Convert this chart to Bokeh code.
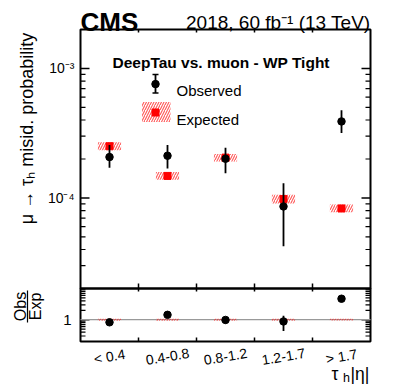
import math
from bokeh.plotting import figure
from bokeh.models import ColumnDataSource, Range1d, LogScale, Label
from bokeh.embed import file_html
from bokeh.resources import INLINE

# ---------------- data ----------------
categories = ["< 0.4", "0.4-0.8", "0.8-1.2", "1.2-1.7", "> 1.7"]
obs = [2.07e-4, 2.12e-4, 2.01e-4, 0.86e-4, 3.90e-4]
obs_up = [2.56e-4, 2.56e-4, 2.44e-4, 1.30e-4, 4.75e-4]
obs_dn = [1.71e-4, 1.69e-4, 1.55e-4, 0.424e-4, 3.18e-4]
exp = [2.51e-4, 1.48e-4, 2.05e-4, 0.98e-4, 0.83e-4]
exp_up = [2.69e-4, 1.59e-4, 2.19e-4, 1.06e-4, 0.89e-4]
exp_dn = [2.34e-4, 1.38e-4, 1.91e-4, 0.905e-4, 0.775e-4]
y_tick_labels = {1e-4: "10\u207b\u2074", 1e-3: "10\u207b\u00b3"}
ratio_tick_labels = {1: "1"}

FONT = "Liberation Sans"

# ---------------- layout (page pixels; the figure starts at page 0,0) ----------------
FW, FH = 399, 385
FL, FR = 80, 370          # panel left/right
T1, B1 = 29, 288          # main panel top/bottom
T2, B2 = 288, 341         # ratio panel top/bottom
Y1MIN, Y1MAX = 2e-5, 2e-3
Y2MIN, Y2MAX = 0.2, 10.0
XMIN, XMAX = 0, len(categories)
HW = 0.2


def sx(px):
    return XMIN + (px - FL) / (FR - FL) * (XMAX - XMIN)


def dxp(px):
    return px / (FR - FL) * (XMAX - XMIN)


def sy1(py):
    l0, l1 = math.log10(Y1MIN), math.log10(Y1MAX)
    return 10 ** (l0 + (B1 - py) / (B1 - T1) * (l1 - l0))


def sy2(py):
    l0, l1 = math.log10(Y2MIN), math.log10(Y2MAX)
    return 10 ** (l0 + (B2 - py) / (B2 - T2) * (l1 - l0))


def f1(px):
    return 10 ** (px / (B1 - T1) * math.log10(Y1MAX / Y1MIN))


def f2(px):
    return 10 ** (px / (B2 - T2) * math.log10(Y2MAX / Y2MIN))


xc = [i + 0.5 for i in range(len(categories))]
edges = list(range(XMIN, XMAX + 1))
src = ColumnDataSource(dict(
    x=xc, obs=obs, obs_up=obs_up, obs_dn=obs_dn, exp=exp,
    exp_up=exp_up, exp_dn=exp_dn,
    left=[v - HW for v in xc], right=[v + HW for v in xc],
    ratio=[o / e for o, e in zip(obs, exp)],
    r_up=[o / e for o, e in zip(obs_up, exp)],
    r_dn=[o / e for o, e in zip(obs_dn, exp)],
    re_up=[u / e for u, e in zip(exp_up, exp)],
    re_dn=[d / e for d, e in zip(exp_dn, exp)],
))

HATCH = dict(fill_color=None, line_color=None, hatch_pattern="/",
             hatch_color="#ff2020", hatch_alpha=0.75, hatch_scale=5,
             hatch_weight=1.1)

p = figure(width=FW, height=FH, x_range=Range1d(sx(0), sx(FW)),
           y_range=Range1d(sy1(FH), sy1(0)), y_axis_type="log",
           x_axis_location=None, y_axis_location=None,
           toolbar_location=None, output_backend="svg", min_border=0)
p.outline_line_color = None
p.background_fill_color = "white"
p.border_fill_color = "white"
for g in p.grid:
    g.visible = False
p.extra_y_ranges = {"r": Range1d(sy2(FH), sy2(0))}
p.extra_y_scales = {"r": LogScale()}

# ---------------- panel frames and ticks (drawn through the scales) ----------------
p.quad(left=[XMIN], right=[XMAX], bottom=[Y1MIN], top=[Y1MAX],
       fill_color=None, line_color="black", line_width=2)
p.quad(left=[XMIN], right=[XMAX], bottom=[Y2MIN], top=[Y2MAX],
       fill_color=None, line_color="black", line_width=2, y_range_name="r")

minor1 = [m * 10 ** e for e in (-5, -4, -3) for m in range(2, 10)
          if Y1MIN <= m * 10 ** e <= Y1MAX]
minor2 = [m * 10 ** e for e in (-1, 0) for m in range(2, 10)
          if Y2MIN <= m * 10 ** e <= Y2MAX and m * 10 ** e != 1]


def yticks(values, length, rname="default", width=1.5):
    kw = {} if rname == "default" else {"y_range_name": rname}
    p.segment(x0=[XMIN] * len(values), x1=[XMIN + dxp(length)] * len(values),
              y0=values, y1=values, line_color="black", line_width=width, **kw)
    p.segment(x0=[XMAX] * len(values), x1=[XMAX - dxp(length)] * len(values),
              y0=values, y1=values, line_color="black", line_width=width, **kw)


yticks(list(y_tick_labels), 9)
yticks(minor1, 5, width=1.2)
yticks(list(ratio_tick_labels), 9, "r")
yticks(minor2, 5, "r", width=1.2)

inner = edges[1:-1]
n = len(inner)
p.segment(x0=inner, x1=inner, y0=[Y1MAX] * n, y1=[Y1MAX / f1(3)] * n, line_color="black", line_width=1.5)
p.segment(x0=inner, x1=inner, y0=[Y1MIN] * n, y1=[Y1MIN * f1(5)] * n, line_color="black", line_width=1.5)
p.segment(x0=inner, x1=inner, y0=[Y2MAX] * n, y1=[Y2MAX / f2(3)] * n, line_color="black",
          line_width=1.5, y_range_name="r")
p.segment(x0=inner, x1=inner, y0=[Y2MIN] * n, y1=[Y2MIN * f2(4)] * n, line_color="black",
          line_width=1.5, y_range_name="r")


def lab(x, y, text, size, bold=False, align="left", baseline="alphabetic",
        angle=0.0, x_units="canvas", y_units="canvas", rname="default"):
    p.add_layout(Label(x=x, y=y, x_units=x_units, y_units=y_units, text=text,
                       text_font=FONT, text_font_size=size,
                       text_font_style="bold" if bold else "normal",
                       text_align=align, text_baseline=baseline, angle=angle,
                       text_color="black", y_range_name=rname))


for v, t in y_tick_labels.items():
    lab(XMIN - dxp(6), v, t, "14px", align="right", baseline="middle",
        x_units="data", y_units="data")
for v, t in ratio_tick_labels.items():
    lab(XMIN - dxp(9), v, t, "15px", align="right", baseline="middle",
        x_units="data", y_units="data", rname="r")

# ---------------- main panel content ----------------
p.quad(left="left", right="right", bottom="exp_dn", top="exp_up", source=src, **HATCH)
p.scatter(x="x", y="exp", source=src, marker="square", size=7, color="#ff0000")
p.segment(x0="x", y0="obs_dn", x1="x", y1="obs_up", source=src,
          line_color="black", line_width=1.8)
p.scatter(x="x", y="obs", source=src, marker="circle", size=7.5, color="black")

# legend samples
lx = sx(155)
p.segment(x0=[lx], y0=[sy1(74)], x1=[lx], y1=[sy1(92.5)], line_color="black", line_width=1.8)
p.segment(x0=[sx(152), sx(152)], y0=[sy1(74), sy1(92.5)], x1=[sx(158), sx(158)],
          y1=[sy1(74), sy1(92.5)], line_color="black", line_width=1.5)
p.scatter(x=[lx], y=[sy1(83.6)], marker="circle", size=7.5, color="black")
p.quad(left=[sx(141.5)], right=[sx(170)], top=[sy1(101.5)], bottom=[sy1(121.5)], **HATCH)
p.scatter(x=[lx], y=[sy1(112)], marker="square", size=7, color="#ff0000")

lab(112, 61.5, "DeepTau vs. muon - WP Tight", "15.5px", bold=True)
lab(176, 90, "Observed", "15px")
lab(176, 118.5, "Expected", "15px")
lab(80, 21.5, "CMS", "26px", bold=True)
lab(370, 21.5, "2018, 60 fb\u207b\u00b9 (13 TeV)", "19px", align="right")

# rotated y title (centre-anchored so the rotation is symmetric)
a = math.pi / 2
lab(26.5, 128, "\u03bc \u2192 \u03c4\u2095 misid. probability", "18px",
    align="center", baseline="middle", angle=a)

# ---------------- ratio panel content ----------------
p.segment(x0=[XMIN], x1=[XMAX], y0=[1], y1=[1], line_color="#999999", line_width=1.2,
          y_range_name="r")
p.quad(left="left", right="right", bottom="re_dn", top="re_up", source=src,
       y_range_name="r", **HATCH)
p.segment(x0="x", y0="r_dn", x1="x", y1="r_up", source=src, line_color="black",
          line_width=1.8, y_range_name="r")
p.scatter(x="x", y="ratio", source=src, marker="circle", size=7.5, color="black",
          y_range_name="r")

# Obs / Exp fraction label
lab(20, 306, "Obs", "16px", align="center", baseline="middle", angle=a)
lab(34.5, 306, "Exp", "16px", align="center", baseline="middle", angle=a)
p.segment(x0=[sx(27)], x1=[sx(27)], y0=[sy2(290)], y1=[sy2(322)], line_color="black",
          line_width=1.2, y_range_name="r")

# category labels (x through the x scale)
for i, c in enumerate(categories):
    lab(xc[i], 356, c, "14px", align="center", baseline="middle", angle=0.17,
        x_units="data")

# x title: tau_h |eta|
lab(331, 373.5, "\u03c4", "17.5px")
lab(342.5, 377, "h", "12.5px")
lab(350, 373.5, "|\u03b7|", "17.5px")

open("out.html", "w").write(file_html(p, INLINE))
